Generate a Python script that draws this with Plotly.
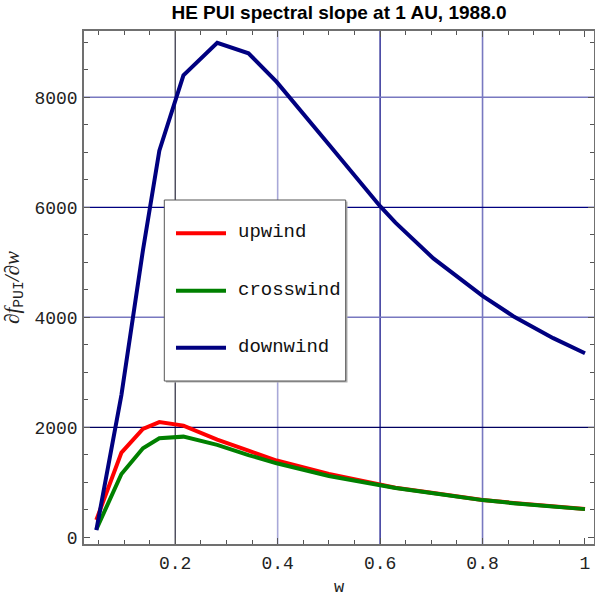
import plotly.graph_objects as go

# ---- data ----
w = [0.046, 0.095, 0.137, 0.169, 0.216, 0.282, 0.343, 0.398, 0.50, 0.60, 0.63, 0.704, 0.80, 0.86, 0.938, 1.0]
upwind = [315, 1540, 1970, 2095, 2030, 1775, 1575, 1395, 1150, 955, 900, 805, 680, 625, 560, 515]
crosswind = [145, 1150, 1620, 1800, 1830, 1680, 1495, 1345, 1115, 950, 895, 800, 676, 620, 556, 512]
downwind = [130, 2590, 5220, 7030, 8400, 8990, 8800, 8280, 7140, 6020, 5720, 5070, 4390, 4020, 3620, 3345]

series_names = ["upwind", "crosswind", "downwind"]
series_colors = ["#ff0000", "#008000", "#000080"]

x_tickvals = [0.2, 0.4, 0.6, 0.8, 1.0]
x_ticktext = ["0.2", "0.4", "0.6", "0.8", "1"]
y_tickvals = [0, 2000, 4000, 6000, 8000]
y_ticktext = ["0", "2000", "4000", "6000", "8000"]

x_grid = [0.2, 0.4, 0.6, 0.8]
y_grid = [2000, 4000, 6000, 8000]

title_text = "HE PUI spectral slope at 1 AU, 1988.0"
x_title = "w"

# ---- figure ----
fig = go.Figure()
for name, vals, col in zip(series_names, [upwind, crosswind, downwind], series_colors):
    fig.add_trace(go.Scatter(x=w, y=vals, mode="lines", name=name,
                             line=dict(color=col, width=4), showlegend=False))

shapes = []
xgrid_colors = ["#28283c", "#a8a8d8", "#000080", "#7878c0"]
xgrid_widths = [1.2, 1.6, 1.2, 1.6]
for v, c, lw in zip(x_grid, xgrid_colors, xgrid_widths):
    shapes.append(dict(type="line", xref="x", yref="paper", x0=v, x1=v, y0=0, y1=1,
                       line=dict(color=c, width=lw), layer="below"))
ygrid_colors = ["#000060", "#7878c0", "#000080", "#7878c0"]
ygrid_widths = [1.2, 1.6, 1.2, 1.6]
for v, c, lw in zip(y_grid, ygrid_colors, ygrid_widths):
    shapes.append(dict(type="line", xref="paper", yref="y", x0=0, x1=1, y0=v, y1=v,
                       line=dict(color=c, width=lw), layer="below"))

# manual legend box
L = 84.0; R = 594.0; T = 31.0; B = 544.0
def px(xp):
    return (xp - L) / (R - L)
def py(yp):
    return (B - yp) / (B - T)

shapes.append(dict(type="rect", xref="paper", yref="paper",
                   x0=px(166), x1=px(347.5), y0=py(382.5), y1=py(201.5),
                   fillcolor="#b0b0b0", line=dict(width=0), layer="above"))
shapes.append(dict(type="rect", xref="paper", yref="paper",
                   x0=px(164.3), x1=px(345.7), y0=py(381), y1=py(200),
                   fillcolor="white", line=dict(color="#555555", width=1), layer="above"))
annotations = []
rows = [233.3, 290.7, 347.7]
for name, col, ry in zip(series_names, series_colors, rows):
    shapes.append(dict(type="line", xref="paper", yref="paper",
                       x0=px(176), x1=px(226), y0=py(ry), y1=py(ry),
                       line=dict(color=col, width=4), layer="above"))
    annotations.append(dict(xref="paper", yref="paper", x=px(236), y=py(ry - 1),
                            xanchor="left", yanchor="middle", showarrow=False,
                            text=name, font=dict(family="Liberation Mono", size=19, color="#111111")))

mono = dict(family="Liberation Mono", size=18, color="#222222")

fig.update_layout(
    width=595, height=601,
    margin=dict(l=84, r=1, t=31, b=57, autoexpand=False),
    paper_bgcolor="white", plot_bgcolor="white",
    title=dict(text="<b>" + title_text + "</b>", x=0.5, xref="paper", y=1 - 12.5 / 601,
               yanchor="middle", font=dict(family="Liberation Sans", size=19, color="black")),
    shapes=shapes,
    annotations=annotations,
    xaxis=dict(range=[0.0219, 1.0176], showgrid=False, zeroline=False, automargin=False,
               tickvals=x_tickvals, ticktext=x_ticktext, tickfont=mono,
               ticks="inside", ticklen=6, tickcolor="#555555", tickwidth=1,
               minor=dict(ticks="inside", dtick=0.05, tick0=0, ticklen=4, tickcolor="#555555"),
               showline=True, mirror="ticks", linecolor="#707070", linewidth=1.5,
               ticklabelstandoff=2,
               title=dict(text=x_title, font=dict(family="Liberation Mono", size=17, color="#222222"),
                          standoff=7)),
    yaxis=dict(range=[-122, 9205], showgrid=False, zeroline=False, automargin=False,
               tickvals=y_tickvals, ticktext=y_ticktext, tickfont=mono,
               ticks="inside", ticklen=6, tickcolor="#555555", tickwidth=1,
               minor=dict(ticks="inside", dtick=500, tick0=0, ticklen=4, tickcolor="#555555"),
               showline=True, mirror="ticks", linecolor="#707070", linewidth=1.5,
               ticklabelstandoff=1,
               title=dict(text="<i>∂f</i><sub><span style=\"font-family:Liberation Mono\">PUI</span></sub><i>/∂w</i>",
                          font=dict(family="Liberation Serif", size=21, color="#222222"),
                          standoff=14)),
)

fig.write_html("out.html", config={"displayModeBar": False},
               post_script="document.body.style.margin='0px';")
